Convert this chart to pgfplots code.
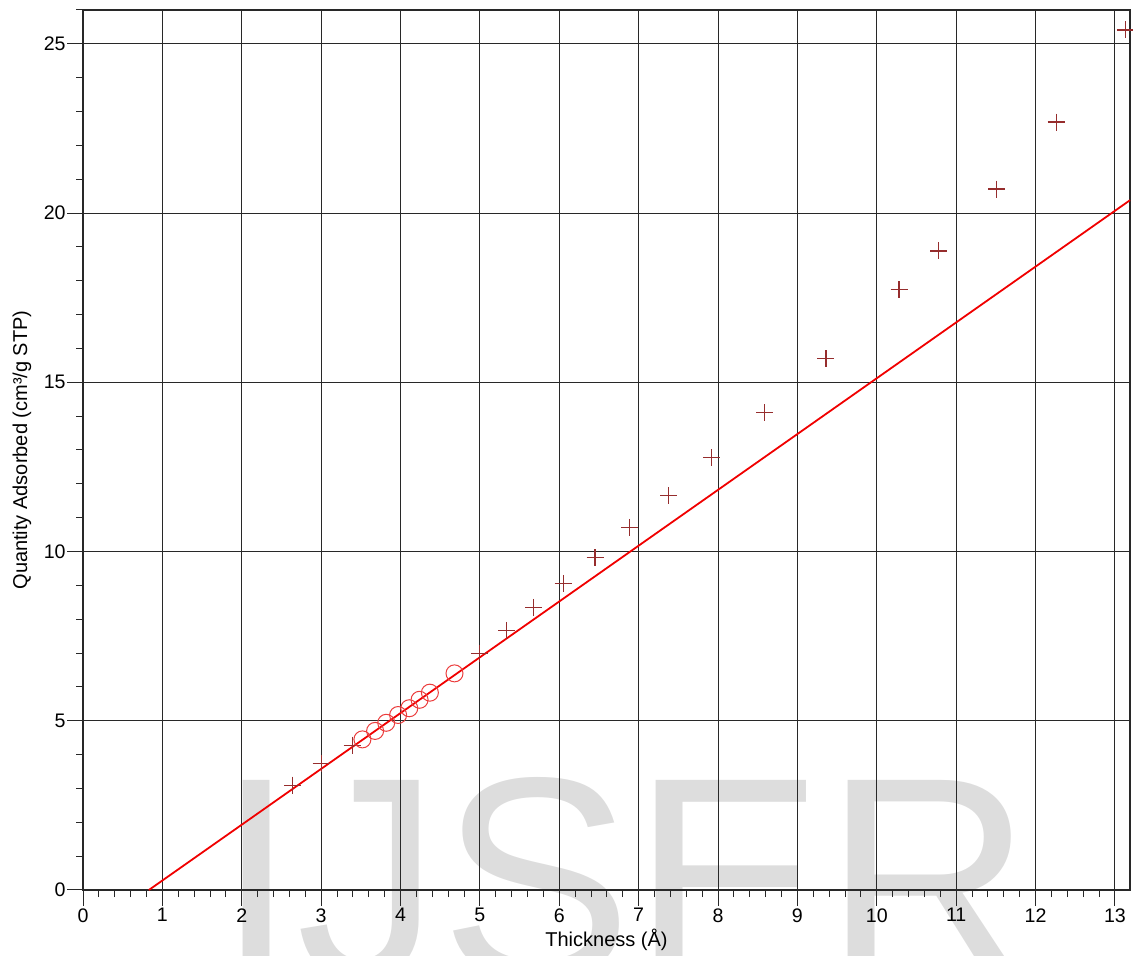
\documentclass[border=0pt]{standalone}
\usepackage{fontspec}
\setmainfont{Liberation Sans}
\usepackage{pgfplots}
\pgfplotsset{compat=1.18}
\definecolor{ptred}{RGB}{150,45,45}
\definecolor{circred}{RGB}{235,60,60}
\definecolor{fitred}{RGB}{240,0,0}
\definecolor{wmgray}{RGB}{221,221,221}
\definecolor{gridk}{RGB}{40,40,40}

\begin{document}
\begin{tikzpicture}[x=1pt,y=1pt]
% watermark behind the chart
\begin{scope}
  \clip (-41.5,-33) rectangle (525,445);
  \node[anchor=base west, inner sep=0pt, text=wmgray,
        font=\fontsize{144}{144}\selectfont] at (66.5,-44.5) {IJSER};
\end{scope}
\begin{axis}[
    at={(0,0)}, anchor=south west,
    scale only axis, width=523.5pt, height=440pt,
    xmin=0, xmax=13.19, ymin=0, ymax=26,
    xtick={0,...,13}, ytick={0,5,...,25},
    minor xtick={0,0.2,...,13.1},
    minor ytick={0,...,26},
    tick pos=left, tick align=outside,
    major tick length=8pt, minor tick length=3.5pt,
    grid=major,
    major grid style={line width=0.5pt, gridk},
    axis line style={line width=0.6pt, gridk},
    tick style={line width=0.5pt, gridk},
    /pgf/number format/assume math mode=true,
    tick label style={font=\fontsize{9.8}{12}\selectfont},
    xticklabel style={inner ysep=1pt},
    yticklabel style={inner xsep=0.5pt},
    xlabel={Thickness (Å)},
    ylabel={Quantity Adsorbed (cm³/g STP)},
    label style={font=\fontsize{10}{12}\selectfont},
    xlabel style={at={(axis description cs:0.5,0)}, anchor=base, yshift=-28pt},
    ylabel style={at={(axis description cs:-0.0583,0.5)}, anchor=center},
    clip=false,
]
% measured points (+)
\addplot[only marks, mark=+, mark size=4.25pt, ptred, mark options={line width=0.55pt}] coordinates {
    (2.64,3.10) (3.00,3.74) (3.39,4.28) (5.00,7.00) (5.34,7.67) (5.68,8.35)
    (6.05,9.06) (6.45,9.82) (6.89,10.71) (7.38,11.65) (7.92,12.77) (8.59,14.10)
    (9.36,15.69) (10.28,17.73) (10.78,18.88) (11.51,20.71) (12.26,22.69) (13.13,25.41)
};
% points used in the fit (o)
\addplot[only marks, mark=o, mark size=4.25pt, circred, mark options={line width=0.5pt}] coordinates {
    (3.52,4.45) (3.68,4.70) (3.82,4.94) (3.97,5.17) (4.11,5.37) (4.24,5.62)
    (4.37,5.83) (4.68,6.40)
};
% fitted line
\addplot[fitred, line width=0.9pt, no marks] coordinates {
    (0.83,0) (13.19,20.38)
};
\end{axis}
\pgfresetboundingbox
\useasboundingbox (-41.5,-33) rectangle (525,445);
\end{tikzpicture}
\end{document}
